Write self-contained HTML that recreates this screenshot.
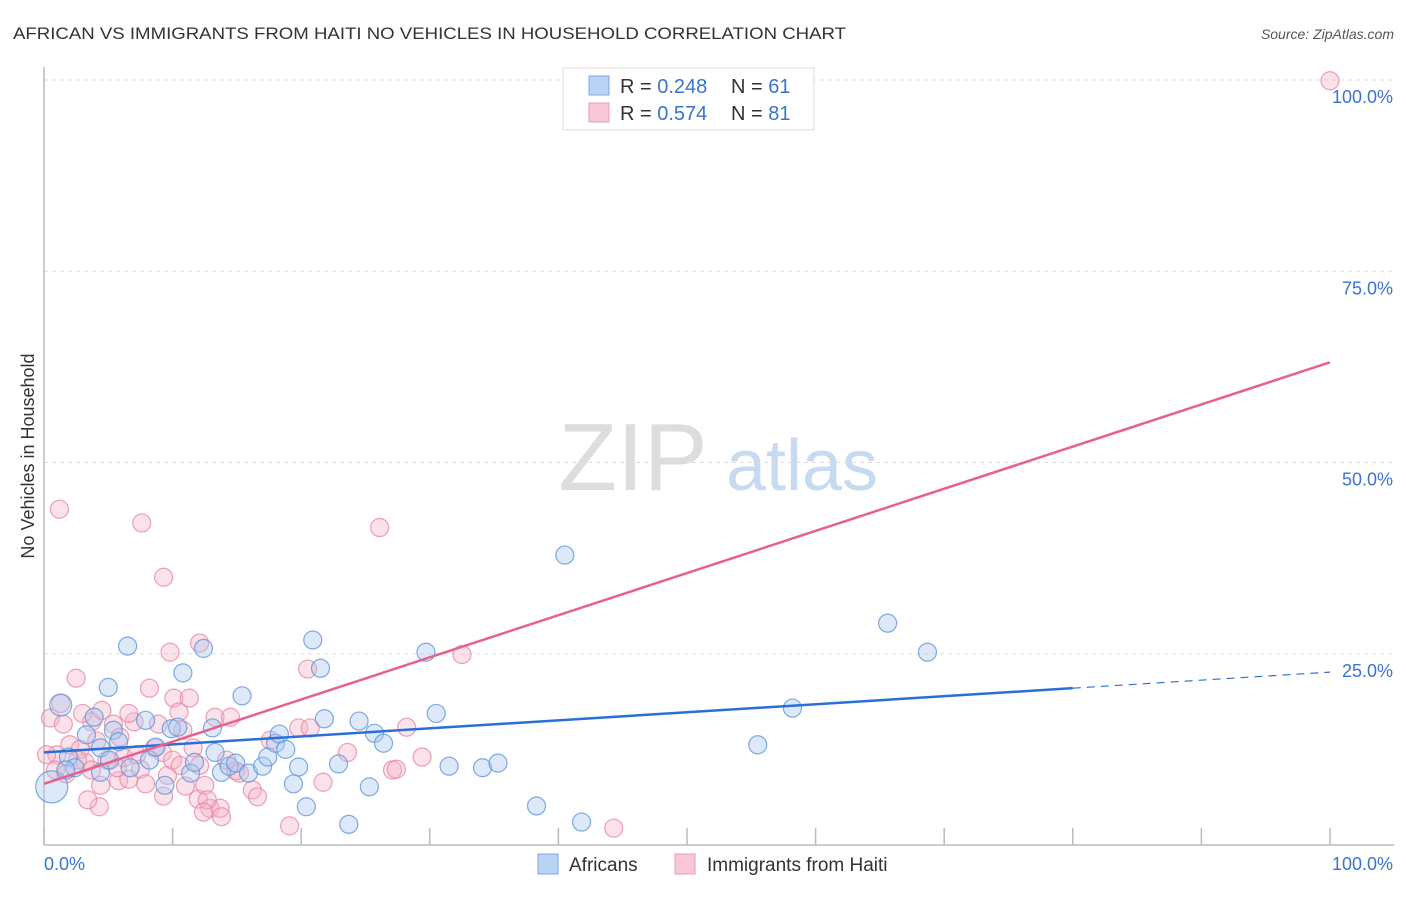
<!DOCTYPE html>
<html><head><meta charset="utf-8"><style>
body{margin:0;background:#fff;font-family:"Liberation Sans",sans-serif;}
svg text{font-family:"Liberation Sans",sans-serif;}
</style></head><body>
<svg width="1406" height="892">
<text x="13" y="39" font-size="17" fill="#333" textLength="833" lengthAdjust="spacingAndGlyphs">AFRICAN VS IMMIGRANTS FROM HAITI NO VEHICLES IN HOUSEHOLD CORRELATION CHART</text>
<text x="1394" y="39" font-size="14" fill="#555" font-style="italic" text-anchor="end">Source: ZipAtlas.com</text>
<g><text x="633" y="490" font-size="96" fill="#ddd" font-family="Liberation Serif,serif" text-anchor="middle">ZIP</text><text x="802" y="490" font-size="72" fill="#c8daf0" text-anchor="middle">atlas</text></g>
<g id="grid"></g>
<g id="axes"></g>
<g id="marks"></g>
<text transform="translate(34,456) rotate(-90)" font-size="18" fill="#333" text-anchor="middle">No Vehicles in Household</text>
<g>
<rect x="563" y="68" width="251" height="62" fill="#fff" stroke="#ddd"/>
<rect x="589" y="76" width="20" height="19" fill="#b8d3f5" stroke="#7ea8e0"/>
<rect x="589" y="103" width="20" height="19" fill="#f8c8d6" stroke="#eb9ab4"/>
<text x="620" y="93" font-size="20" fill="#333">R = <tspan fill="#3a73d0">0.248</tspan></text>
<text x="731" y="93" font-size="20" fill="#333">N = <tspan fill="#3a73d0">61</tspan></text>
<text x="620" y="120" font-size="20" fill="#333">R = <tspan fill="#3a73d0">0.574</tspan></text>
<text x="731" y="120" font-size="20" fill="#333">N = <tspan fill="#3a73d0">81</tspan></text>
</g>
<g>
<rect x="538" y="854" width="20" height="20" fill="#b8d3f5" stroke="#7ea8e0"/>
<text x="569" y="871" font-size="19" fill="#333">Africans</text>
<rect x="675" y="854" width="20" height="20" fill="#f8c8d6" stroke="#eb9ab4"/>
<text x="707" y="871" font-size="19" fill="#333">Immigrants from Haiti</text>
</g>
</svg>
<script>
const yTicks=[25,50,75,100];
const yTickLabels=["25.0%","50.0%","75.0%","100.0%"];
const xTicks=[0,10,20,30,40,50,60,70,80,90,100];
const africanX=[0.6,1.3,1.9,3.3,3.9,4.4,5.0,5.4,5.8,6.5,6.7,7.9,8.2,8.7,9.4,9.9,10.4,10.8,11.4,11.7,12.4,13.1,13.3,13.8,14.4,14.9,15.4,15.9,17.0,17.4,18.0,18.3,18.8,19.4,19.8,20.4,20.9,21.5,21.8,22.9,23.7,24.5,25.3,25.7,26.4,29.7,30.5,31.5,34.1,35.3,38.3,40.5,41.8,55.5,58.2,65.6,68.7,4.4,2.4,5.1,1.7];
const africanY=[7.6,18.3,11.5,14.4,16.7,12.7,20.6,15.0,13.5,26.0,10.1,16.3,11.1,12.8,7.8,15.2,15.4,22.5,9.4,10.8,25.7,15.3,12.1,9.5,10.3,10.7,19.5,9.4,10.3,11.5,13.3,14.5,12.5,8.0,10.2,5.0,26.8,23.1,16.5,10.6,2.7,16.2,7.6,14.6,13.3,25.2,17.2,10.3,10.1,10.7,5.1,37.9,3.0,13.1,17.9,29.0,25.2,9.5,10.1,11.1,9.8];
const haitiX=[1.2,7.6,9.3,26.1,100,1.3,2.5,0.5,1.5,1.0,0.9,2.0,3.2,2.8,3.7,4.1,4.5,4.9,5.4,5.8,6.2,6.6,7.0,7.5,8.2,8.6,8.9,9.3,9.6,9.8,10.1,10.5,10.8,11.0,11.3,11.6,12.0,12.1,12.5,12.9,13.3,13.7,14.2,14.5,14.9,15.2,16.2,16.6,17.6,19.1,19.8,20.5,20.7,21.7,23.6,27.1,27.4,28.2,29.4,32.5,44.3,4.4,4.3,3.4,6.6,7.9,13.8,12.7,5.9,1.7,3.0,5.7,12.4,0.2,2.6,3.7,7.2,9.2,12.1,10.0,10.6];
const haitiY=[43.9,42.1,35.0,41.5,99.9,18.5,21.8,16.6,15.8,11.8,9.8,13.1,10.8,12.5,16.1,13.6,17.6,11.1,15.8,8.4,11.4,8.6,16.1,9.9,20.5,12.7,15.8,6.4,9.1,25.2,19.2,17.4,15.0,7.7,19.2,12.7,6.0,26.4,7.8,4.8,16.7,4.8,11.1,16.7,9.7,9.4,7.2,6.3,13.7,2.5,15.3,23.0,15.3,8.2,12.1,9.8,9.9,15.4,11.5,24.9,2.2,7.8,5.0,5.9,17.2,8.0,3.7,5.9,14.1,9.3,17.2,10.1,4.3,11.8,11.1,9.8,11.8,12.1,10.4,11.1,10.4];
const africanTrend=[12.1,22.6];
const haitiTrend=[8.0,63.1];
const NS="http://www.w3.org/2000/svg";
const X0=44,X1=1330,Y0=845,Y1=80;
const sx=v=>X0+(X1-X0)*v/100, sy=v=>Y0-(Y0-Y1)*v/100;
function mk(t,a,p){const e=document.createElementNS(NS,t);for(const k in a)e.setAttribute(k,a[k]);p.appendChild(e);return e;}
const grid=document.getElementById('grid'),axes=document.getElementById('axes'),marks=document.getElementById('marks');
yTicks.forEach((t,i)=>{
 const l=mk('line',{x1:X0,x2:1394,y1:sy(t),y2:sy(t),stroke:'#ddd','stroke-dasharray':'4,4'},grid);
 
 
 const tx=mk('text',{x:1393,y:sy(t)+23,'font-size':18,fill:'#3a73d0','text-anchor':'end'},axes);
 tx.textContent=yTickLabels[i];
 
 
});
const ax=mk('line',{x1:X0,x2:X0,y1:67,y2:Y0,stroke:'#bbb','stroke-width':1.5},axes);


const bx=mk('line',{x1:X0,x2:1394,y1:Y0,y2:Y0,stroke:'#bbb','stroke-width':1.5},axes);


xTicks.forEach(t=>{
 const l=mk('line',{x1:sx(t),x2:sx(t),y1:828,y2:Y0,stroke:'#bbb','stroke-width':1.5},axes);
 
 
});
const xl0=mk('text',{x:44,y:870,'font-size':18,fill:'#3a73d0'},axes);xl0.textContent='0.0%';


const xl1=mk('text',{x:1393,y:870,'font-size':18,fill:'#3a73d0','text-anchor':'end'},axes);xl1.textContent='100.0%';


function pts(xs,ys,fill,stroke,name){
 xs.forEach((x,i)=>{
  const r=(i===0&&name==='african-point')?16:(i===1&&name==='african-point')?11:9;
  const c=mk('circle',{cx:sx(x),cy:sy(ys[i]),r:r,fill:fill,'fill-opacity':0.4,stroke:stroke,'stroke-opacity':0.8,'stroke-width':1.2},marks);
  
  
 });
}
pts(haitiX,haitiY,'#f5b5c9','#e888a6','haiti-point');
pts(africanX,africanY,'#a9c8f0','#5f95dc','african-point');
const at=(tr,x)=>tr[0]+(tr[1]-tr[0])*x/100;
const bl=mk('line',{x1:sx(0),y1:sy(at(africanTrend,0)),x2:sx(80),y2:sy(at(africanTrend,80)),stroke:'#2a6fd6','stroke-width':2.5},marks);


const bd=mk('line',{x1:sx(80),y1:sy(at(africanTrend,80)),x2:sx(100),y2:sy(at(africanTrend,100)),stroke:'#2a6fd6','stroke-width':1.2,'stroke-dasharray':'8,6'},marks);


const pl=mk('line',{x1:sx(0),y1:sy(at(haitiTrend,0)),x2:sx(100),y2:sy(at(haitiTrend,100)),stroke:'#e8608c','stroke-width':2.5},marks);


</script>
</body></html>
